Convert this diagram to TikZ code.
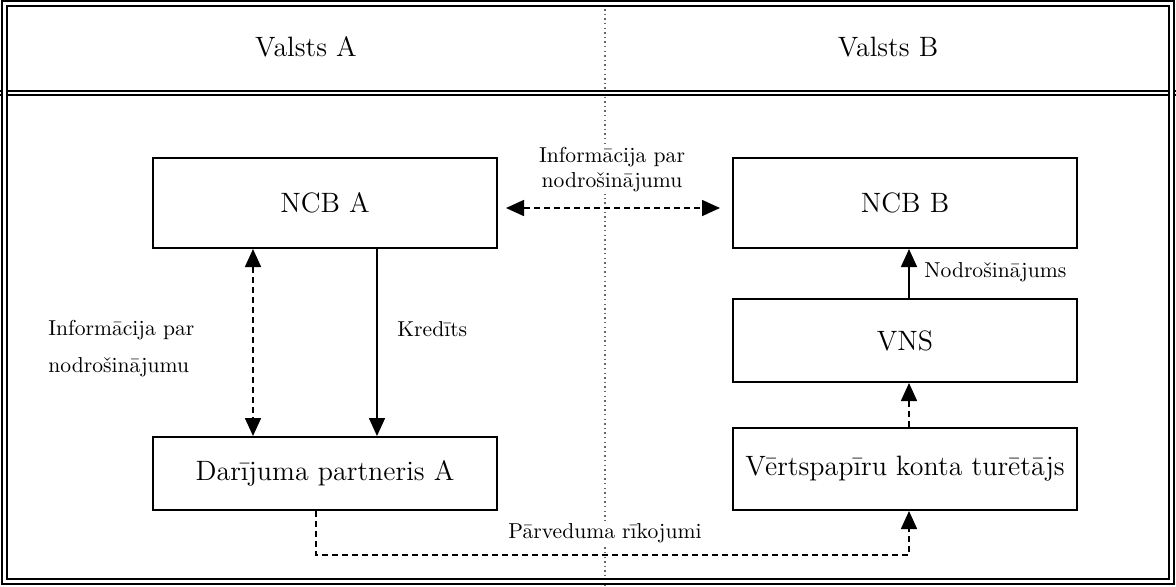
\documentclass[tikz,border=0pt]{standalone}
\usepackage{fontspec}
\usepackage{tikz}
\usetikzlibrary{arrows.meta,positioning,calc}

\begin{document}
\begin{tikzpicture}[x=0.5pt,y=-0.5pt,
  box/.style={rectangle, draw, line width=1pt, minimum width=172pt,
    minimum height=45pt, align=center, font=\fontsize{14}{17}\selectfont},
  hdr/.style={font=\fontsize{14}{17}\selectfont},
  lbl/.style={align=center, inner sep=1pt, fill=white, font=\fontsize{10.8}{12.5}\selectfont},
  arr/.style={line width=0.8pt, -{Triangle[length=9pt,width=8pt]}},
  dasharr/.style={arr, dash pattern=on 3pt off 2pt},
  biarr/.style={dasharr, {Triangle[length=9pt,width=8pt]}-{Triangle[length=9pt,width=8pt]}},
  frame/.style={line width=1pt, double, double distance=1.5pt},
  divider/.style={line width=0.7pt, black!60, dash pattern=on 0.7pt off 1.6pt}
]
\useasboundingbox (0,0) rectangle (1176,586);

% Country divider and frame
\draw[divider] (605,0) -- (605,586);
\draw[line width=1pt, double, double distance=1pt] (0,93) -- (1176,93);
\draw[frame] (4.5,3.5) rectangle (1171,581.5);

% Headers
\node[hdr] (hdrA) at (306,47) {Valsts A};
\node[hdr] (hdrB) at (888,47) {Valsts B};

% Country A
\node[box] (ncbA) at (325,203) {NCB A};
\node[box, minimum height=36.5pt] (partnerA) at (325,473.5) {Darījuma partneris A};

% Country B
\node[box] (ncbB) at (905,203) {NCB B};
\node[box, minimum height=41.5pt] (vns) at (905,340.5) {VNS};
\node[box, minimum height=41pt] (holder) at (905,469) {Vērtspapīru konta turētājs};
\coordinate (low) at (605,555);

% Labels
\node[lbl] (infoTop) at (612,170) {Informācija par\\nodrošinājumu};
\node[lbl, align=left, anchor=west, font=\fontsize{10.8}{18.5}\selectfont] (infoLeft) at (46,349) {Informācija par\\nodrošinājumu};
\node[lbl, anchor=west] (kred) at (395,329) {Kredīts};
\node[lbl, anchor=west] (nodr) at (922,272) {Nodrošinājums};
\node[lbl] (parv) at (605,533) {Pārveduma rīkojumi};

% Flows
\draw[biarr, shorten <=4pt, shorten >=6pt] ([yshift=-2.5pt]ncbA.east) -- ([yshift=-2.5pt]ncbB.west);
\draw[biarr] ([xshift=-36pt]ncbA.south) -- ([xshift=-36pt]partnerA.north);
\draw[arr] ([xshift=26pt]ncbA.south) -- ([xshift=26pt]partnerA.north);
\draw[arr] ([xshift=2pt]vns.north) -- ([xshift=2pt]ncbB.south);
\draw[dasharr] ([xshift=2pt]holder.north) -- ([xshift=2pt]vns.south);
\draw[dasharr] ([xshift=-4.5pt]partnerA.south) |- (low) -| ([xshift=2pt]holder.south);
\end{tikzpicture}
\end{document}
